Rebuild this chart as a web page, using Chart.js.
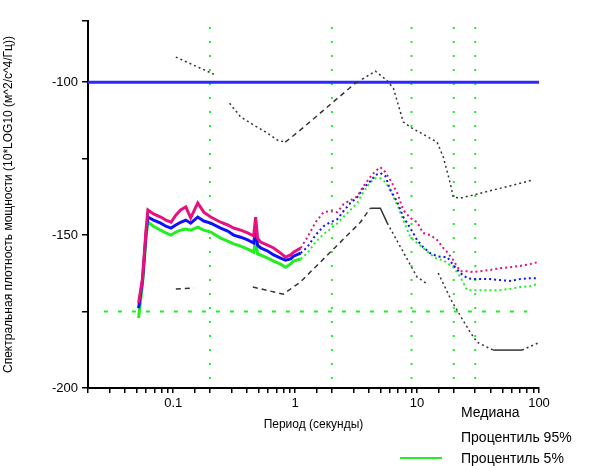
<!DOCTYPE html>
<html>
<head>
<meta charset="utf-8">
<script src="https://cdn.jsdelivr.net/npm/chart.js@4.4.0/dist/chart.umd.min.js"></script>
<style>
body{margin:0;background:#fff}
#wrap{position:relative;width:598px;height:466px}
.leg{position:absolute;font:14px "Liberation Sans",Arial,sans-serif;color:#000;white-space:nowrap}
</style>
</head>
<body>
<div id="wrap">
  <canvas id="psd" width="598" height="466"></canvas>
  <div class="leg" style="left:461px;top:404px">Медиана</div>
  <div class="leg" style="left:461px;top:429px">Процентиль 95%</div>
  <div class="leg" style="left:461px;top:450px">Процентиль 5%</div>
  <div style="position:absolute;left:400px;top:457px;width:42px;height:2px;background:#22ee22"></div>
</div>
<script>
// period (s) shared by the three percentile curves
var periods = [0.052, 0.056, 0.060, 0.062, 0.069, 0.079, 0.087, 0.096, 0.105, 0.115,
  0.127, 0.139, 0.159, 0.178, 0.203, 0.245, 0.28, 0.313, 0.357, 0.408,
  0.457, 0.474, 0.492, 0.521, 0.594, 0.666, 0.76, 0.834, 0.917, 0.97,
  1.11, 1.26, 1.47, 1.71, 1.95, 2.22, 2.49, 2.84, 3.24, 3.63,
  4.14, 4.55, 5.0, 5.49, 6.04, 6.89, 7.71, 8.8, 10.0, 11.2,
  12.8, 14.6, 16.4, 17.7, 19.8, 22.6, 25.8, 28.8, 32.9, 39.7,
  48, 57.9, 69.9, 84.4, 98]

var p95 = [-172.2, -164.1, -147.7, -141.8, -143.1, -144.1, -145.1, -145.8, -143.5, -141.8,
  -140.8, -144.4, -139.5, -142.5, -144.1, -145.8, -146.7, -147.7, -148.4, -149.3,
  -150.3, -144.1, -151.0, -152.3, -153.3, -154.2, -155.9, -157.2, -156.5, -155.6,
  -154.2, -150.7, -145.8, -142.5, -142.2, -142.5, -139.9, -138.6, -137.3, -134.0,
  -131.0, -129.1, -127.8, -129.4, -132.0, -136.3, -141.8, -144.4, -145.8, -149.3,
  -150.0, -151.6, -154.2, -155.6, -158.2, -161.8, -161.8, -162.1, -161.8, -161.4,
  -160.8, -160.5, -160.1, -159.5, -158.8]

var median = [-173.9, -164.7, -149.0, -144.1, -145.1, -146.1, -147.1, -147.7, -146.7, -145.8,
  -145.1, -146.1, -144.1, -145.4, -146.1, -147.7, -148.7, -150.0, -150.7, -151.6,
  -152.6, -148.4, -153.3, -154.2, -155.2, -156.5, -157.5, -158.2, -157.8, -156.9,
  -155.9, -153.9, -150.0, -147.1, -145.8, -144.8, -142.2, -139.5, -137.6, -134.6,
  -132.4, -130.4, -129.7, -130.7, -135.3, -139.2, -144.1, -147.7, -151.6, -153.9,
  -155.9, -156.9, -157.2, -157.2, -159.8, -162.4, -164.1, -164.4, -164.4, -164.4,
  -164.7, -165.0, -164.4, -164.1, -164.1]

var p5 = [-177.1, -166.0, -150.3, -145.8, -147.1, -148.4, -149.3, -150.0, -149.0, -148.4,
  -148.0, -148.4, -147.4, -148.4, -149.0, -151.0, -152.0, -152.9, -153.6, -154.6,
  -155.6, -151.6, -156.2, -156.5, -157.5, -158.5, -159.5, -160.5, -159.5, -158.5,
  -157.8, -155.9, -152.3, -149.7, -148.0, -146.1, -144.1, -141.8, -139.5, -135.9,
  -132.7, -131.4, -131.4, -132.7, -135.3, -140.2, -145.1, -150.7, -152.6, -154.2,
  -156.2, -157.8, -158.2, -159.2, -160.5, -163.7, -168.0, -168.0, -168.0, -168.0,
  -168.0, -167.6, -167.0, -166.7, -166.0]

// high and low noise models (null = gap)
var nhnmPeriods = [0.105, 0.215, 0.25, 0.29, 0.358, 0.457, 0.594, 0.72, 0.83, 1.1,
  3.12, 3.56, 4.55, 5.6, 6.4, 7.7, 8.8, 14.6, 16.4, 18.7, 19.8, 22.6, 28.9, 89.4]
var nhnmLevels = [-91.8, -97.4, null, -106.9, -111.4, -114.0, -116.7, -119.0, -119.6, -115.7,
  -100.3, -99.0, -96.4, -99.3, -102.0, -113.0, -114.7, -119.6, -124.5, -133.0, -137.6, -137.9, -136.9, -132.0]

var nlnmPeriods = [0.105, 0.148, 0.3, 0.45, 0.80, 1.1, 3.43, 4.14, 5.0, 5.7,
  10, 12.1, 13.5, 14.9, 19.4, 27.2, 31, 42, 72.6, 98]
var nlnmLevels = [-167.6, -167.3, null, -167.0, -169.3, -165.4, -145.8, -141.2, -141.2, -146.1,
  -163.7, -166.0, null, -162.4, -171.9, -181.7, -185.0, -187.6, -187.6, -185.3]

var refLevel = -100
var markPeriods = [0.2, 2, 9, 20, 30]
var markLevel = -175

var xTickValues = [0.1, 1, 10, 100]
var xTickLabels = ['0.1', '1', '10', '100']

function pts(xs, ys) {
    return xs.map(function(x, i){ return {x: x, y: ys[i]} })
}

var green = '#22ee22'

// dense noisy part drawn solid and thick, the sparse tail dotted
var pctSegment = {
    borderDash: function(c){ return c.p0.parsed.x < 1 ? [] : [2, 3] },
    borderWidth: function(c){ return c.p0.parsed.x < 1 ? 3 : 2 }
}

var datasets = [
    {label: 'Процентиль 95%', data: pts(periods, p95), borderColor: '#e8107e', borderWidth: 2, segment: pctSegment},
    {label: 'Медиана', data: pts(periods, median), borderColor: '#1010ff', borderWidth: 2, segment: pctSegment},
    {label: 'Процентиль 5%', data: pts(periods, p5), borderColor: green, borderWidth: 2, segment: pctSegment},
    {label: 'NHNM', data: pts(nhnmPeriods, nhnmLevels), borderColor: '#333', borderWidth: 1.5,
     segment: {borderDash: function(c){
         var x = c.p0.parsed.x
         return (x >= 0.8 && x < 3.5) ? [5, 4] : [2, 3]
     }}},
    {label: 'NLNM', data: pts(nlnmPeriods, nlnmLevels), borderColor: '#333', borderWidth: 1.5,
     segment: {borderDash: function(c){
         var x = c.p0.parsed.x
         if (x < 3.5) return [5, 4]
         if ((x >= 4 && x < 5.5) || (x >= 40 && x < 70)) return []
         return [2, 3]
     }}},
    {label: 'ref', data: [{x: 0.02, y: refLevel}, {x: 100, y: refLevel}], borderColor: '#2a2aff', borderWidth: 3},
    {label: 'mark', data: [{x: 0.027, y: markLevel}, {x: 80, y: markLevel}], borderColor: green, borderWidth: 2, borderDash: [4, 10]}
]

markPeriods.forEach(function(p){
    datasets.push({label: 'v' + p, data: [{x: p, y: -82}, {x: p, y: -200}], borderColor: green, borderWidth: 2, borderDash: [2, 12]})
})

datasets.forEach(function(d){
    d.pointRadius = 0
    d.fill = false
    d.tension = 0
    d.spanGaps = false
})

Chart.defaults.font.family = '"Liberation Sans", Arial, sans-serif'
Chart.defaults.color = '#000'

var ctx = document.getElementById('psd').getContext('2d')
var chart = new Chart(ctx, {
    type: 'line',
    data: {datasets: datasets},
    options: {
        responsive: false,
        animation: false,
        layout: {padding: {left: 0, right: 59, top: 21, bottom: 33}},
        plugins: {legend: {display: false}, tooltip: {enabled: false}},
        scales: {
            x: {
                type: 'logarithmic', min: 0.02, max: 100,
                afterFit: function(s){ s.height = 45 },
                border: {display: true, color: '#000', width: 2},
                grid: {drawOnChartArea: false, drawTicks: true, tickLength: 5, color: '#000', lineWidth: 1.5},
                ticks: {
                    autoSkip: false, maxRotation: 0, padding: 3, font: {size: 13},
                    callback: function(v){
                        var i = xTickValues.findIndex(function(t){ return Math.abs(t - v) < t * 1e-6 })
                        return i >= 0 ? xTickLabels[i] : ''
                    }
                },
                title: {display: true, text: 'Период (секунды)', font: {size: 12}, padding: {top: 2, bottom: 1}}
            },
            y: {
                type: 'linear', min: -200, max: -80,
                afterFit: function(s){ s.width = 88 },
                border: {display: true, color: '#000', width: 2},
                grid: {drawOnChartArea: false, drawTicks: true, tickLength: 6, color: '#000', lineWidth: 1.5},
                ticks: {
                    stepSize: 25, padding: 4, font: {size: 13},
                    callback: function(v){ return v % 50 === 0 ? String(v) : '' }
                },
                title: {display: true, text: 'Спектральная плотность мощности (10*LOG10 (м^2/с^4/Гц))',
                        font: {size: 12}, padding: {top: 1, bottom: 0}}
            }
        }
    }
})
</script>
</body>
</html>
